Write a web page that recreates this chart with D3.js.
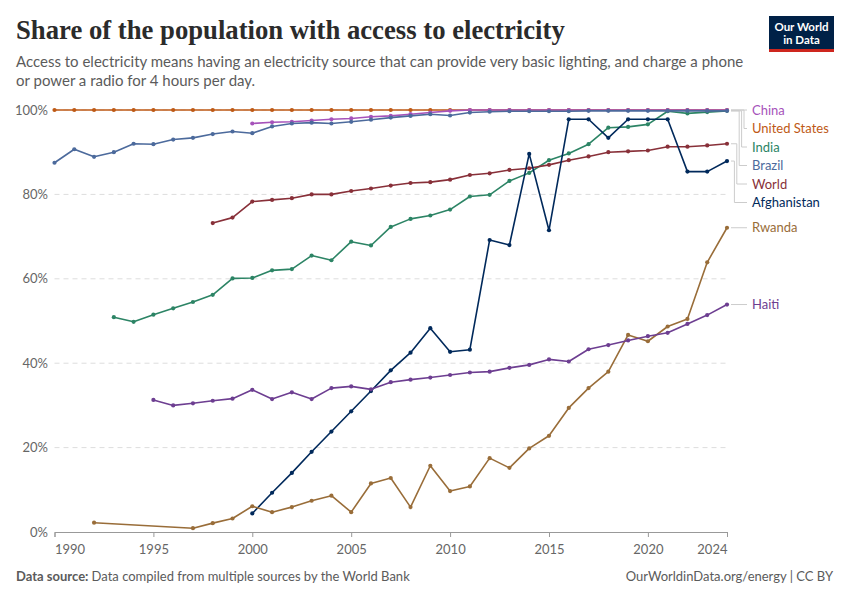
<!DOCTYPE html>
<meta charset="utf-8">
<title>Share of the population with access to electricity</title>
<style>
  body { margin: 0; background: #fff; }
  svg text { font-family: Lato, "Open Sans", sans-serif; }
  text.title { font-family: "Liberation Serif", "DejaVu Serif", serif; font-weight: bold; fill: #2b2b2b; }
  text.subtitle { font-size: 15px; fill: #5b5b5b; }
  .tick-label { font-size: 13px; fill: #666; }
  .grid { stroke: #ddd; stroke-dasharray: 5,4; }
  .footer { font-size: 13px; fill: #5b5b5b; }
  .series-label { font-size: 13px; }
</style>
<script src="https://d3js.org/d3.v7.min.js"></script>
<div id="chart"></div>
<script>
// years and values (percent)
var yearsUS = d3.range(1990, 2025);
var valuesUS = yearsUS.map(function() { return 100; });

var yearsChina = d3.range(2000, 2025);
var valuesChina = [96.8, 97.1, 97.2, 97.5, 97.8, 98.0, 98.4, 98.6, 99.0, 99.4, 99.8, 100, 100,
                   100, 100, 100, 100, 100, 100, 100, 100, 100, 100, 100, 100];

var yearsIndia = d3.range(1993, 2025);
var valuesIndia = [50.9, 49.8, 51.5, 53.0, 54.5, 56.2, 60.1, 60.2, 62.0, 62.3, 65.5, 64.4, 68.8,
                   67.9, 72.3, 74.2, 75.0, 76.4, 79.5, 79.9, 83.2, 85.1, 88.1, 89.7, 91.9, 95.8,
                   96.0, 96.6, 99.7, 99.2, 99.5, 99.8];

var yearsBrazil = d3.range(1990, 2025);
var valuesBrazil = [87.5, 90.7, 88.9, 90.0, 92.0, 91.9, 93.0, 93.4, 94.3, 94.9, 94.5, 96.1, 96.8,
                    97.0, 96.8, 97.2, 97.7, 98.2, 98.6, 99.0, 98.7, 99.4, 99.6, 99.7, 99.7, 99.7,
                    99.7, 99.8, 99.8, 99.8, 99.8, 99.8, 99.8, 99.8, 99.8];

var yearsWorld = d3.range(1998, 2025);
var valuesWorld = [73.2, 74.5, 78.3, 78.7, 79.1, 80.0, 80.0, 80.8, 81.4, 82.1, 82.7, 82.9, 83.5,
                   84.6, 85.0, 85.8, 86.2, 87.0, 88.1, 89.0, 90.0, 90.2, 90.4, 91.3, 91.3, 91.6, 92.0];

var yearsAfghanistan = d3.range(2000, 2025);
var valuesAfghanistan = [4.4, 9.3, 14.0, 19.0, 23.8, 28.6, 33.4, 38.3, 42.5, 48.3, 42.7, 43.2, 69.2,
                         68.0, 89.6, 71.5, 97.8, 97.8, 93.4, 97.8, 97.8, 97.8, 85.4, 85.4, 87.9];

var yearsRwanda = [1992].concat(d3.range(1997, 2025));
var valuesRwanda = [2.2, 0.9, 2.1, 3.2, 6.1, 4.7, 5.9, 7.4, 8.6, 4.7, 11.5, 12.8, 5.9, 15.7, 9.7,
                    10.8, 17.5, 15.2, 19.8, 22.8, 29.4, 34.1, 38.0, 46.7, 45.2, 48.7, 50.5, 63.9, 72.1];

var yearsHaiti = d3.range(1995, 2025);
var valuesHaiti = [31.3, 30.0, 30.5, 31.1, 31.6, 33.7, 31.5, 33.1, 31.5, 34.1, 34.5, 33.8, 35.5,
                   36.1, 36.6, 37.2, 37.8, 38.0, 38.9, 39.6, 40.9, 40.4, 43.3, 44.3, 45.4, 46.4,
                   47.2, 49.3, 51.4, 53.9];

var seriesNames = ["China", "United States", "India", "Brazil", "World", "Afghanistan", "Rwanda", "Haiti"];
var seriesColors = ["#A652BA", "#BE5915", "#2C8465", "#4C6A9C", "#883039", "#00295B", "#996D39", "#6D3E91"];
var seriesYears = [yearsChina, yearsUS, yearsIndia, yearsBrazil, yearsWorld, yearsAfghanistan, yearsRwanda, yearsHaiti];
var seriesValues = [valuesChina, valuesUS, valuesIndia, valuesBrazil, valuesWorld, valuesAfghanistan, valuesRwanda, valuesHaiti];
// order in which lines are painted (last on top)
var drawOrder = ["United States", "India", "World", "Afghanistan", "Rwanda", "Haiti", "China", "Brazil"];

var xTicks = [1990, 1995, 2000, 2005, 2010, 2015, 2020, 2024];
var yTicks = [0, 20, 40, 60, 80, 100];

var W = 850, H = 600;
var svg = d3.select("#chart").append("svg").attr("width", W).attr("height", H);

var x = d3.scaleLinear().domain([1990, 2024]).range([54.5, 727]);
var y = d3.scaleLinear().domain([0, 100]).range([532, 110]);

var series = seriesNames.map(function(n, i) {
  return {
    name: n, color: seriesColors[i],
    points: seriesYears[i].map(function(yr, j) { return {year: yr, value: seriesValues[i][j]}; })
  };
});

// header
var title = svg.append("text").attr("class", "title")
  .attr("x", 16).attr("y", 39)
  .style("font-size", "26px")
  .text("Share of the population with access to electricity");
var tw = title.node().getComputedTextLength();
title.style("font-size", (26 * 550 / tw).toFixed(1) + "px");

svg.append("text").attr("class", "subtitle").attr("x", 16).attr("y", 67)
  .text("Access to electricity means having an electricity source that can provide very basic lighting, and charge a phone");
svg.append("text").attr("class", "subtitle").attr("x", 16).attr("y", 86)
  .text("or power a radio for 4 hours per day.");

// logo
var logo = svg.append("g");
logo.append("rect").attr("x", 769).attr("y", 16).attr("width", 65).attr("height", 36).attr("fill", "#002147");
logo.append("rect").attr("x", 769).attr("y", 49).attr("width", 65).attr("height", 3).attr("fill", "#CE261E");
logo.append("text").attr("x", 801.5).attr("y", 30.5).attr("text-anchor", "middle")
  .style("font-size", "11.5px").style("font-weight", "bold").attr("fill", "#fff").text("Our World");
logo.append("text").attr("x", 801.5).attr("y", 43.5).attr("text-anchor", "middle")
  .style("font-size", "11.5px").style("font-weight", "bold").attr("fill", "#fff").text("in Data");

// grid + y labels
svg.append("g").selectAll("line").data(yTicks.filter(function(d) { return d > 0; }))
  .join("line").attr("class", "grid")
  .attr("x1", x(1990)).attr("x2", x(2024))
  .attr("y1", function(d) { return y(d); }).attr("y2", function(d) { return y(d); });

svg.append("g").selectAll("text").data(yTicks).join("text")
  .attr("class", "tick-label")
  .attr("x", 48).attr("y", function(d) { return y(d); })
  .attr("dy", "0.35em").attr("text-anchor", "end")
  .text(function(d) { return d + "%"; });

// x axis
var xAxis = svg.append("g").attr("transform", "translate(0," + y(0) + ")")
  .call(d3.axisBottom(x).tickValues(xTicks).tickFormat(d3.format("d")).tickSizeOuter(0).tickSize(5));
xAxis.select(".domain").attr("stroke", "#999");
xAxis.selectAll(".tick line").attr("stroke", "#999");
xAxis.selectAll(".tick text").attr("class", "tick-label").attr("dy", "1.1em")
  .style("font-family", "Lato, sans-serif").attr("fill", "#666").style("font-size", "13px")
  .attr("text-anchor", function(d) { return d === 1990 ? "start" : (d === 2024 ? "end" : "middle"); });

// lines
var line = d3.line().x(function(d) { return x(d.year); }).y(function(d) { return y(d.value); });
var byName = {};
series.forEach(function(s) { byName[s.name] = s; });
var lineG = svg.append("g");
drawOrder.forEach(function(n) {
  var s = byName[n];
  var g = lineG.append("g");
  g.append("path").datum(s.points).attr("d", line)
    .attr("fill", "none").attr("stroke", s.color).attr("stroke-width", 1.6)
    .attr("stroke-linejoin", "round");
  g.selectAll("circle").data(s.points).join("circle")
    .attr("cx", function(d) { return x(d.year); })
    .attr("cy", function(d) { return y(d.value); })
    .attr("r", 2.1).attr("fill", s.color);
});

// end labels with simple collision avoidance
var labels = series.map(function(s, i) {
  var last = s.points[s.points.length - 1];
  return {name: s.name, color: s.color, idx: i, py: y(last.value), value: last.value};
});
labels.sort(function(a, b) { return b.value - a.value || a.idx - b.idx; });
var prev = -Infinity;
labels.forEach(function(l) {
  l.ly = Math.max(l.py, prev + 18.5);
  prev = l.ly;
});
var labG = svg.append("g");
var k = 0;
labels.forEach(function(l) {
  var path;
  if (Math.abs(l.ly - l.py) < 1) {
    path = "M731," + l.py + "H747";
  } else {
    var vx = 744 - k * 2.4;
    path = "M731," + l.py + "H" + vx + "V" + l.ly + "H747";
    k++;
  }
  labG.append("path").attr("d", path).attr("fill", "none").attr("stroke", "#ccc").attr("stroke-width", 1);
  labG.append("text").attr("class", "series-label")
    .attr("x", 752).attr("y", l.ly).attr("dy", "0.35em")
    .attr("fill", l.color).text(l.name);
});

// footer
var foot = svg.append("text").attr("class", "footer").attr("x", 16).attr("y", 581);
foot.append("tspan").style("font-weight", "bold").text("Data source: ");
foot.append("tspan").text("Data compiled from multiple sources by the World Bank");
svg.append("text").attr("class", "footer").attr("x", 833).attr("y", 581).attr("text-anchor", "end")
  .text("OurWorldinData.org/energy | CC BY");
</script>
